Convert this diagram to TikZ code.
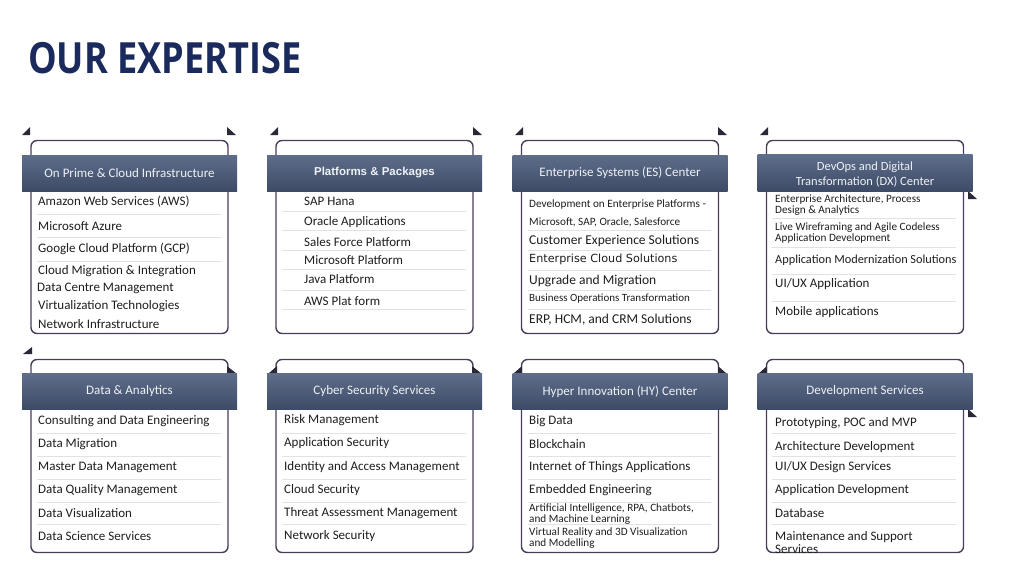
\documentclass[tikz,border=0pt]{standalone}
\usepackage{fontspec}
\setmainfont{Carlito}
\newfontfamily\titlefont{Open Sans}[FakeStretch=0.84]
\newfontfamily\arialfont{Liberation Sans}
\newfontfamily\widefont{DejaVu Sans}

\definecolor{navy}{HTML}{1B2A5C}
\definecolor{framec}{HTML}{4A3D5A}
\definecolor{bandtop}{HTML}{5E6D89}
\definecolor{bandbot}{HTML}{3D4B67}
\definecolor{foldc}{HTML}{2B2838}
\definecolor{rulegray}{HTML}{E2E2E2}
\definecolor{ink}{HTML}{1E1E1E}
\definecolor{headtext}{HTML}{EEF1F6}

\begin{document}
\begin{tikzpicture}[x=1pt, y=-1pt,
    card/.style={draw=framec, line width=1.4pt, rounded corners=6pt, fill=white, minimum width=197pt, minimum height=193pt},
    head/.style={top color=bandtop, bottom color=bandbot, minimum width=215pt, minimum height=36pt, text=headtext, align=center, font=\fontsize{13}{15}\selectfont},
    item/.style={anchor=west, text=ink, inner sep=0pt, yshift=-1pt, align=left, font=\fontsize{13}{13}\selectfont},
    small/.style={font=\fontsize{11.2}{11}\selectfont},
    itemrule/.style={rulegray, line width=0.8pt}]
  \useasboundingbox (0,0) rectangle (1024,576);

  \node[anchor=base west, inner sep=0pt, text=navy, font=\titlefont\bfseries\fontsize{43}{43}\selectfont] (title) at (28,73) {OUR EXPERTISE};

  % cards
  \node[card] (C1) at (129.5,237) {};
  \node[card] (C2) at (374.5,237) {};
  \node[card] (C3) at (620,237) {};
  \node[card] (C4) at (865,237) {};
  \node[card] (C5) at (129.5,456) {};
  \node[card] (C6) at (374.5,456) {};
  \node[card] (C7) at (620,456) {};
  \node[card] (C8) at (865,456) {};

  % folds
  \fill[foldc] (22,135) -- (30,135) -- (30,127) -- cycle;
  \fill[foldc] (227,127) -- (227,135) -- (236,135) -- cycle;
  \fill[foldc] (270,135) -- (278,135) -- (278,127) -- cycle;
  \fill[foldc] (473,127) -- (473,135) -- (482,135) -- cycle;
  \fill[foldc] (515,135) -- (523,135) -- (523,127) -- cycle;
  \fill[foldc] (718,127) -- (718,135) -- (727,135) -- cycle;
  \fill[foldc] (760,135) -- (768,135) -- (768,127) -- cycle;
  \fill[foldc] (968,191) -- (968,199) -- (977,199) -- cycle;
  \fill[foldc] (23,354) -- (32,354) -- (32,347) -- cycle;
  \fill[foldc] (227,366) -- (227,374) -- (237,374) -- cycle;
  \fill[foldc] (268,374) -- (277,374) -- (277,366) -- cycle;
  \fill[foldc] (472,366) -- (472,374) -- (482,374) -- cycle;
  \fill[foldc] (513,374) -- (522,374) -- (522,366) -- cycle;
  \fill[foldc] (718,366) -- (718,374) -- (727,374) -- cycle;
  \fill[foldc] (758,374) -- (767,374) -- (767,366) -- cycle;
  \fill[foldc] (968,409) -- (968,417) -- (977,417) -- cycle;

  % headers
  \node[head] (C1h) at (129.5,173) {On Prime \& Cloud Infrastructure};
  \node[head, font=\arialfont\bfseries\fontsize{11.5}{13}\selectfont] (C2h) at (374.5,173) {Platforms \& Packages};
  \node[head] (C3h) at (620,173) {Enterprise Systems (ES) Center};
  \node[head, font=\fontsize{12.5}{15}\selectfont] (C4h) at (865,173) {\raisebox{-2pt}[\height][\depth]{\begin{tabular}{@{}c@{}}DevOps and Digital\\Transformation (DX) Center\end{tabular}}};
  \node[head] (C5h) at (129.5,391.5) {Data \& Analytics};
  \node[head] (C6h) at (374.5,391.5) {Cyber Security Services};
  \node[head] (C7h) at (620,391.5) {Hyper Innovation (HY) Center};
  \node[head] (C8h) at (865,391.5) {Development Services};

  % rules
  \foreach \y in {214,237,261} \draw[itemrule] (37,\y) -- (221,\y);
  \foreach \y in {211,230,250,269,290,309} \draw[itemrule] (282,\y) -- (466,\y);
  \foreach \y in {230,250,270,290,309} \draw[itemrule] (528,\y) -- (711,\y);
  \foreach \y in {218,247,274,301} \draw[itemrule] (772,\y) -- (956,\y);
  \foreach \y in {433,456,479,502,524} {
    \draw[itemrule] (37,\y) -- (221,\y);
    \draw[itemrule] (282,\y) -- (466,\y);
    \draw[itemrule] (528,\y) -- (711,\y);
    \draw[itemrule] (772,\y) -- (956,\y);
  }

  % On Prime & Cloud Infrastructure
  \node[item] (C1a) at (38,201) {Amazon Web Services (AWS)};
  \node[item] (C1b) at (38,225) {Microsoft Azure};
  \node[item] (C1c) at (38,248) {Google Cloud Platform (GCP)};
  \node[item] (C1d) at (38,270) {Cloud Migration \& Integration};
  \node[item] (C1e) at (37,287) {Data Centre Management};
  \node[item] (C1f) at (38,305) {Virtualization Technologies};
  \node[item] (C1g) at (38,323) {Network Infrastructure};

  % Platforms & Packages
  \node[item] (C2a) at (304,200) {SAP Hana};
  \node[item] (C2b) at (304,221) {Oracle Applications};
  \node[item] (C2c) at (304,241) {Sales Force Platform};
  \node[item] (C2d) at (304,259) {Microsoft Platform};
  \node[item] (C2e) at (304,278) {Java Platform};
  \node[item] (C2f) at (304,300) {AWS Plat form};

  % Enterprise Systems
  \node[item, small] (C3a) at (529,204) {Development on Enterprise Platforms -};
  \node[item, small] (C3b) at (529,221) {Microsoft, SAP, Oracle, Salesforce};
  \node[item, font=\fontsize{13.5}{13}\selectfont] (C3c) at (529,240) {Customer Experience Solutions};
  \node[item, font=\widefont\fontsize{11.2}{13}\selectfont] (C3d) at (529,258) {Enterprise Cloud Solutions};
  \node[item, font=\fontsize{13.5}{13}\selectfont] (C3e) at (529,280) {Upgrade and Migration};
  \node[item, font=\fontsize{11}{11}\selectfont] (C3f) at (529,298) {Business Operations Transformation};
  \node[item, font=\fontsize{13.5}{13}\selectfont] (C3g) at (529,319) {ERP, HCM, and CRM Solutions};

  % DevOps and Digital Transformation
  \node[item, small] (C4a) at (775,204.5) {Enterprise Architecture, Process\\Design \& Analytics};
  \node[item, small] (C4b) at (775,232.5) {Live Wireframing and Agile Codeless\\Application Development};
  \node[item, font=\fontsize{12.3}{13}\selectfont] (C4c) at (775,259) {Application Modernization Solutions};
  \node[item] (C4d) at (775,283) {UI/UX Application};
  \node[item] (C4e) at (775,311) {Mobile applications};

  % Data & Analytics
  \node[item] (C5a) at (38,420) {Consulting and Data Engineering};
  \node[item] (C5b) at (38,443) {Data Migration};
  \node[item] (C5c) at (38,466) {Master Data Management};
  \node[item] (C5d) at (38,489) {Data Quality Management};
  \node[item] (C5e) at (38,512) {Data Visualization};
  \node[item] (C5f) at (38,535) {Data Science Services};

  % Cyber Security Services
  \node[item] (C6a) at (284,419) {Risk Management};
  \node[item] (C6b) at (284,442) {Application Security};
  \node[item] (C6c) at (284,466) {Identity and Access Management};
  \node[item] (C6d) at (284,489) {Cloud Security};
  \node[item] (C6e) at (284,512) {Threat Assessment Management};
  \node[item] (C6f) at (284,535) {Network Security};

  % Hyper Innovation
  \node[item] (C7a) at (529,420) {Big Data};
  \node[item] (C7b) at (529,443) {Blockchain};
  \node[item] (C7c) at (529,466) {Internet of Things Applications};
  \node[item] (C7d) at (529,489) {Embedded Engineering};
  \node[item, small] (C7e) at (529,513) {Artificial Intelligence, RPA, Chatbots,\\and Machine Learning};
  \node[item, small] (C7f) at (529,537.5) {Virtual Reality and 3D Visualization\\and Modelling};

  % Development Services
  \node[item] (C8a) at (775,422) {Prototyping, POC and MVP};
  \node[item] (C8b) at (775,446) {Architecture Development};
  \node[item] (C8c) at (775,466) {UI/UX Design Services};
  \node[item] (C8d) at (775,489) {Application Development};
  \node[item] (C8e) at (775,512) {Database};
  \node[item, font=\fontsize{13}{13}\selectfont] (C8f) at (775,541.5) {Maintenance and Support\\Services};
\end{tikzpicture}
\end{document}
